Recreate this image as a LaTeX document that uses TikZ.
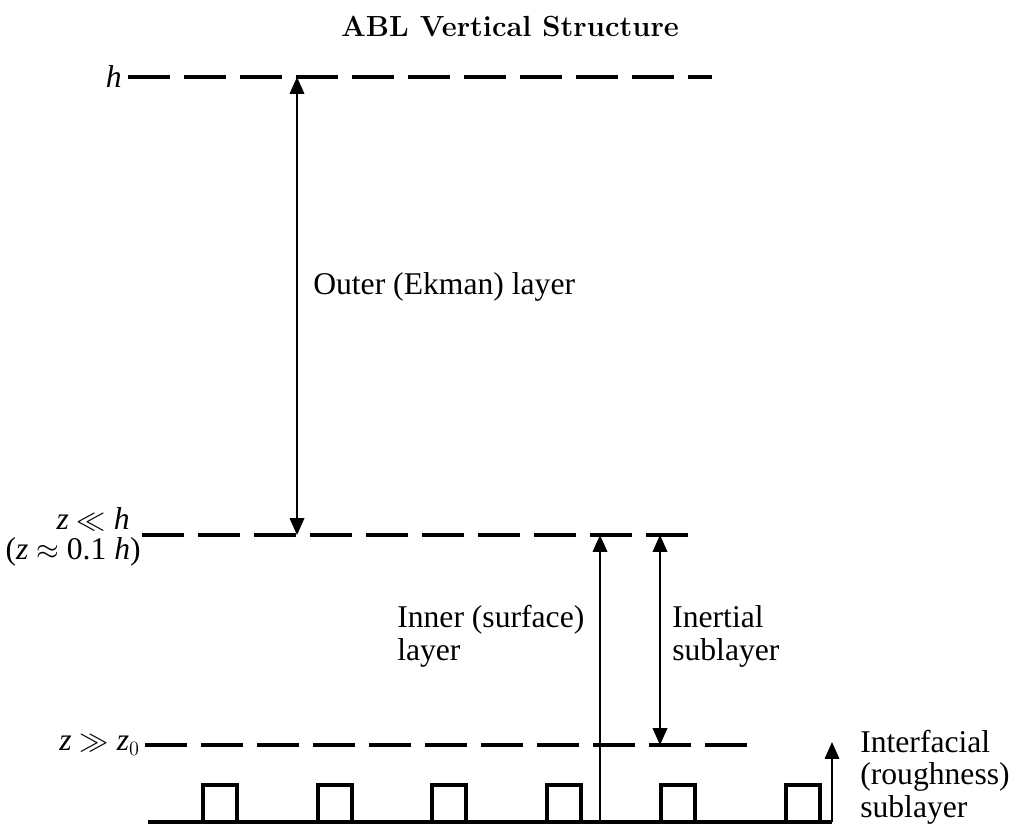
\documentclass[tikz,border=0pt]{standalone}
\usepackage{amsmath,amssymb}
\usepackage{fontspec}
\usepackage{tikz}
\usetikzlibrary{arrows.meta,positioning,calc}
\newfontfamily\labfont{Liberation Serif}

\begin{document}
\begin{tikzpicture}[
    x=0.025cm, y=-0.025cm,
    lab/.style={font=\labfont\fontsize{22.5}{23}\selectfont, inner sep=0pt, align=left},
    dashline/.style={line width=2.4pt, dash pattern=on 1.05cm off 0.35cm},
    ground/.style={line width=2.2pt},
    dimarrow/.style={{Triangle[length=0.42cm,width=0.36cm]}-{Triangle[length=0.42cm,width=0.36cm]}, line width=1.5pt},
    uparrow/.style={-{Triangle[length=0.42cm,width=0.36cm]}, line width=1.5pt}
]
\useasboundingbox (0,0) rectangle (1014,825);

% --- title ---
\node[font=\fontsize{20.7}{24}\selectfont\bfseries, inner sep=0pt, anchor=base] (title) at (510,36) {ABL Vertical Structure};

% --- level labels and dashed levels ---
\node[lab, anchor=east] (hlab) at (122,77) {\textit{h}};
\node[lab, anchor=east] (midlab) at (130,519) {\textit{z} $\ll$ \textit{h}};
\node[lab, anchor=east] (midlabb) at (141,552) {(\textit{z} $\approx$ 0.1 \textit{h})};
\node[lab, anchor=east] (lowlab) at (140,745) {\textit{z} $\gg$ \textit{z}$_0$};

\coordinate (hend) at (712,77);
\coordinate (midstart) at (142,535);
\coordinate (midend) at (692,535);
\coordinate (lowend) at (748,745);

\draw[dashline] (hlab.east) ++(6,0) -- (hend);
\draw[dashline] (midstart) -- (midend);
\draw[dashline] (lowlab.east) ++(5,0) -- (lowend);

% --- ground and roughness elements ---
\coordinate (gl) at (148,822);
\coordinate (gr) at (832,822);
\draw[ground] (gl) -- (gr);
\foreach \x in {203,318,432,547,661,786}
  \draw[ground] (\x,822) -- (\x,785) -- (\x+34,785) -- (\x+34,822);

% --- arrows ---
\coordinate (outtop) at (297,77);
\coordinate (outbot) at (297,535);
\draw[dimarrow] (outbot) -- (outtop);

\coordinate (intop) at (600,535);
\coordinate (inbot) at (600,822);
\draw[uparrow] (inbot) -- (intop);

\coordinate (inerttop) at (660,535);
\coordinate (inertbot) at (660,745);
\draw[dimarrow] (inerttop) -- (inertbot);

\coordinate (rtop) at (832,742);
\draw[uparrow] (gr) -- (rtop);

% --- layer labels ---
\node[lab, anchor=west] (outer) at (313,287) {Outer (Ekman) layer};
\node[lab, anchor=base west] (inner) at (397,660) {Inner (surface)\\layer};
\node[lab, anchor=base west] (inert) at (672,660) {Inertial\\sublayer};
\node[lab, anchor=base west] (rough) at (860,817) {Interfacial\\(roughness)\\sublayer};

\end{tikzpicture}
\end{document}
